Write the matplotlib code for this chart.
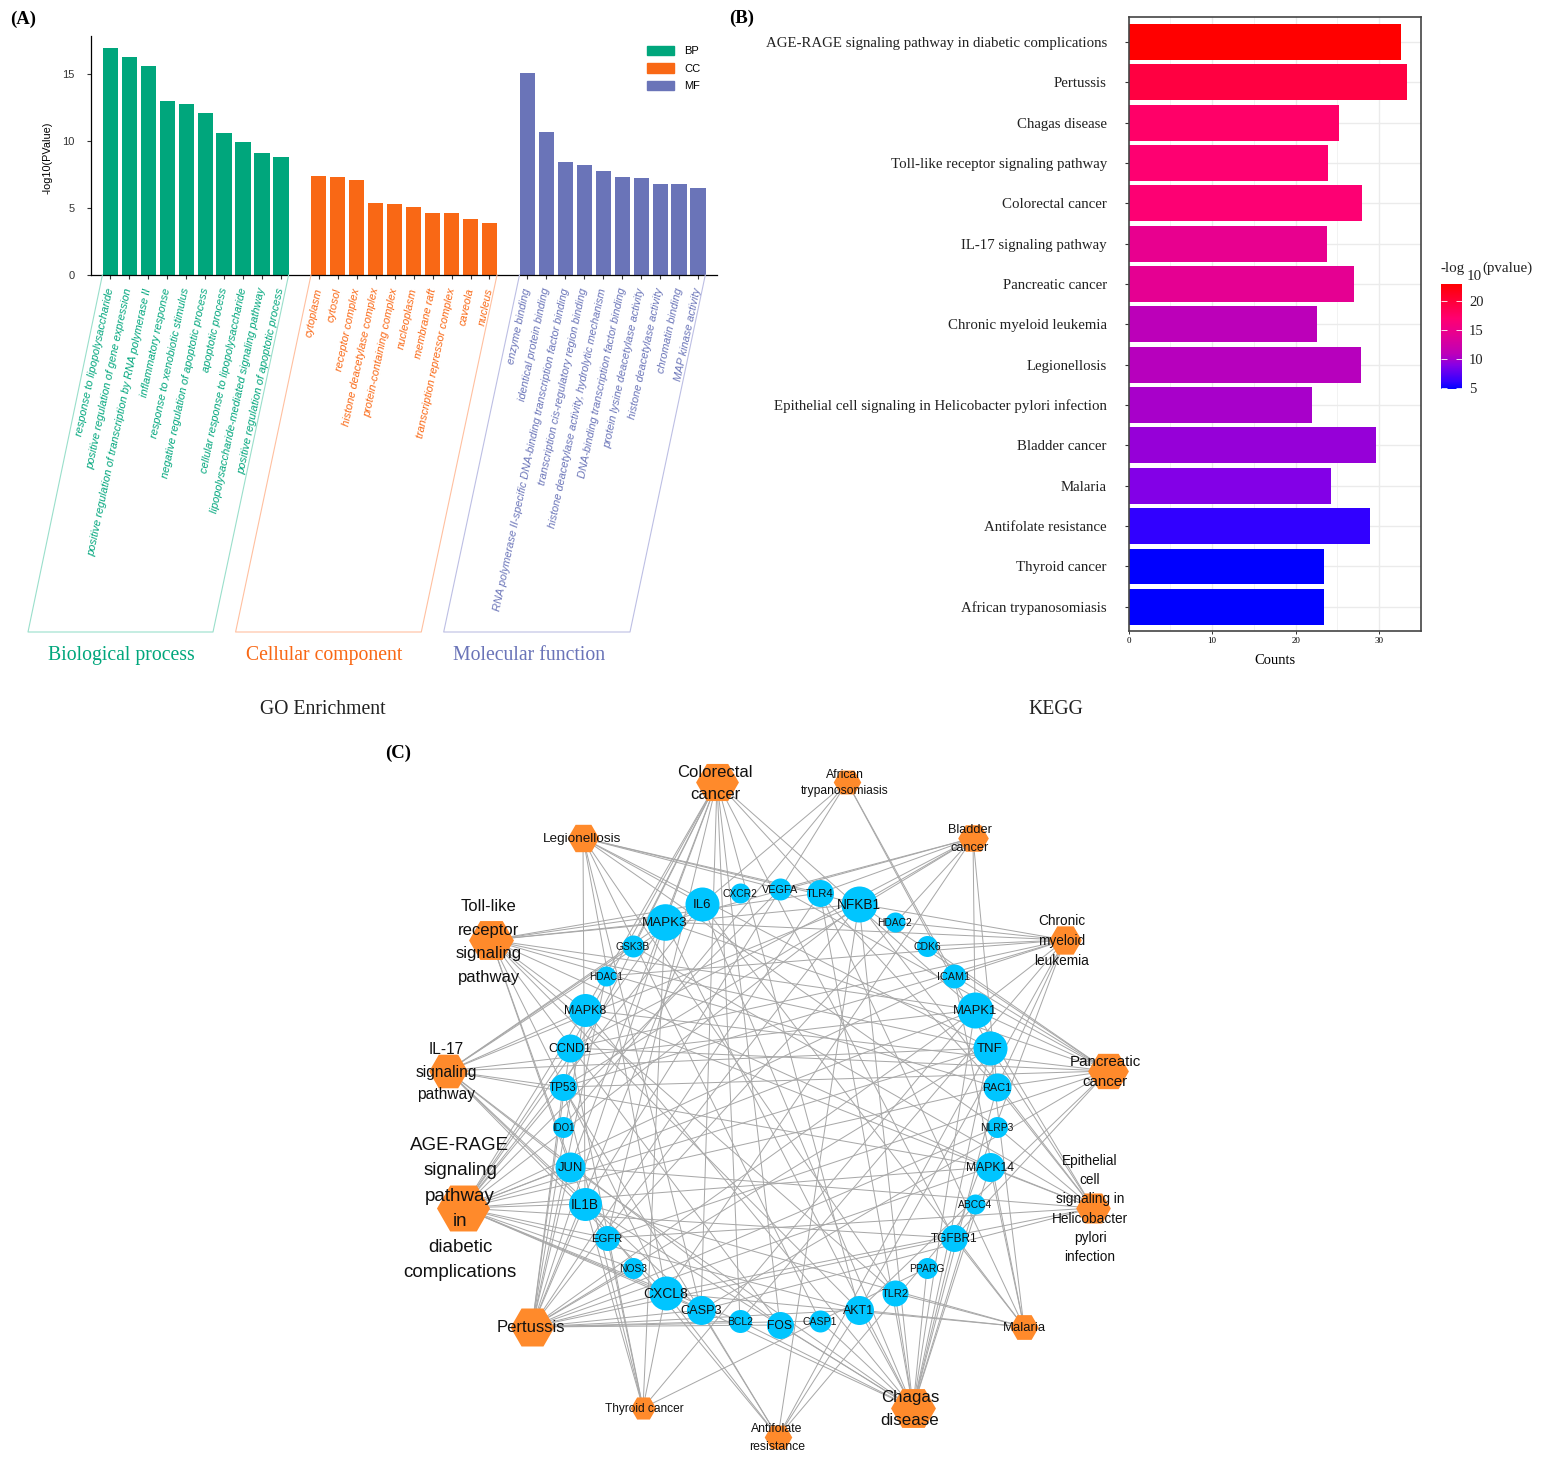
import numpy as np
import matplotlib
matplotlib.use("Agg")
import matplotlib.pyplot as plt
from matplotlib.cm import ScalarMappable
from matplotlib.colors import LinearSegmentedColormap, Normalize
from matplotlib.patches import Patch

W, H = 1541, 1458
SERIF = "Liberation Serif"
SANS = "Liberation Sans"

# panel A data
bp_terms = ["response to lipopolysaccharide", "positive regulation of gene expression",
            "positive regulation of transcription by RNA polymerase II", "inflammatory response",
            "response to xenobiotic stimulus", "negative regulation of apoptotic process",
            "apoptotic process", "cellular response to lipopolysaccharide",
            "lipopolysaccharide-mediated signaling pathway", "positive regulation of apoptotic process"]
bp_values = [16.96, 16.24, 15.57, 12.99, 12.74, 12.09, 10.6, 9.93, 9.11, 8.84]
cc_terms = ["cytoplasm", "cytosol", "receptor complex", "histone deacetylase complex",
            "protein-containing complex", "nucleoplasm", "membrane raft",
            "transcription repressor complex", "caveola", "nucleus"]
cc_values = [7.4, 7.35, 7.1, 5.34, 5.29, 5.04, 4.64, 4.62, 4.17, 3.9]
mf_terms = ["enzyme binding", "identical protein binding",
            "RNA polymerase II-specific DNA-binding transcription factor binding",
            "transcription cis-regulatory region binding",
            "histone deacetylase activity, hydrolytic mechanism",
            "DNA-binding transcription factor binding", "protein lysine deacetylase activity",
            "histone deacetylase activity", "chromatin binding", "MAP kinase activity"]
mf_values = [15.07, 10.7, 8.44, 8.22, 7.75, 7.35, 7.25, 6.8, 6.78, 6.5]

# panel B data
kegg_terms = ["AGE-RAGE signaling pathway in diabetic complications", "Pertussis", "Chagas disease",
              "Toll-like receptor signaling pathway", "Colorectal cancer", "IL-17 signaling pathway",
              "Pancreatic cancer", "Chronic myeloid leukemia", "Legionellosis",
              "Epithelial cell signaling in Helicobacter pylori infection", "Bladder cancer", "Malaria",
              "Antifolate resistance", "Thyroid cancer", "African trypanosomiasis"]
kegg_counts = [32.6, 33.3, 25.2, 23.85, 27.9, 23.7, 27.0, 22.5, 27.8, 21.95, 29.6, 24.25, 28.9, 23.4, 23.4]
kegg_logp = [23, 19.5, 17.5, 17, 16.8, 14.5, 14.3, 11, 10.8, 10.2, 9.6, 9, 6.2, 5, 5]

# panel C data: which genes sit in which pathway
genes = ["IL6", "MAPK3", "CXCR2", "VEGFA", "GSK3B", "HDAC1", "MAPK8", "CCND1", "TP53", "TLR4", "NFKB1",
         "HDAC2", "CDK6", "ICAM1", "MAPK1", "TNF", "RAC1", "NLRP3", "MAPK14", "ABCC4", "TGFBR1", "PPARG",
         "TLR2", "AKT1", "CASP1", "FOS", "BCL2", "CASP3", "CXCL8", "NOS3", "EGFR", "IL1B", "JUN", "IDO1"]
pathway_genes = {
    "Colorectal cancer": ["MAPK3", "MAPK1", "TP53", "CCND1", "AKT1", "BCL2", "CASP3", "GSK3B", "JUN", "FOS",
                          "RAC1", "TGFBR1", "MAPK8", "EGFR"],
    "African trypanosomiasis": ["TNF", "IL1B", "ICAM1", "IDO1", "IL6"],
    "Legionellosis": ["IL6", "TNF", "IL1B", "CXCL8", "TLR4", "TLR2", "NFKB1", "CASP1", "CASP3", "NLRP3", "VEGFA"],
    "Bladder cancer": ["VEGFA", "MAPK1", "MAPK3", "EGFR", "CXCL8", "TP53", "CCND1", "RAC1", "TLR4", "NFKB1"],
    "Toll-like receptor signaling pathway": ["IL6", "MAPK3", "TLR4", "TLR2", "NFKB1", "AKT1", "IL1B", "CXCL8", "TNF",
                                             "JUN", "FOS", "MAPK1", "MAPK8", "MAPK14", "RAC1"],
    "Chronic myeloid leukemia": ["MAPK1", "MAPK3", "TP53", "CCND1", "CDK6", "HDAC1", "HDAC2", "NFKB1", "AKT1",
                                 "TGFBR1", "RAC1", "ICAM1", "BCL2"],
    "IL-17 signaling pathway": ["IL6", "CXCL8", "TNF", "IL1B", "JUN", "FOS", "MAPK1", "MAPK3", "MAPK8", "MAPK14",
                                "NFKB1", "GSK3B", "CASP3", "TP53"],
    "Pancreatic cancer": ["MAPK1", "MAPK3", "TP53", "CCND1", "AKT1", "NFKB1", "EGFR", "VEGFA", "MAPK8", "RAC1",
                          "TGFBR1", "CASP3", "CDK6", "ICAM1"],
    "AGE-RAGE signaling pathway in diabetic complications": ["IL6", "CXCL8", "TNF", "IL1B", "JUN", "MAPK1", "MAPK3",
                                                             "MAPK8", "MAPK14", "NFKB1", "AKT1", "BCL2", "CASP3",
                                                             "CCND1", "ICAM1", "NOS3", "TGFBR1", "VEGFA", "TP53",
                                                             "RAC1", "EGFR"],
    "Epithelial cell signaling in Helicobacter pylori infection": ["CXCL8", "NFKB1", "JUN", "MAPK1", "MAPK8", "MAPK14",
                                                                   "EGFR", "CASP3", "RAC1", "GSK3B", "TNF", "NLRP3"],
    "Pertussis": ["IL6", "IL1B", "CXCL8", "TNF", "JUN", "FOS", "MAPK1", "MAPK3", "MAPK8", "MAPK14", "NFKB1",
                  "NOS3", "CASP1", "CASP3", "NLRP3", "TLR4", "BCL2", "AKT1", "TGFBR1", "TP53", "CCND1", "HDAC1"],
    "Malaria": ["IL6", "TNF", "IL1B", "CXCL8", "TLR2", "TLR4", "ICAM1", "TGFBR1", "MAPK14", "AKT1"],
    "Thyroid cancer": ["CCND1", "TP53", "MAPK1", "MAPK3", "PPARG", "CXCL8", "EGFR", "IL1B"],
    "Chagas disease": ["IL6", "TNF", "IL1B", "CXCL8", "TLR2", "TLR4", "NFKB1", "JUN", "FOS", "MAPK1", "MAPK3",
                       "MAPK8", "MAPK14", "AKT1", "TGFBR1", "CASP1", "BCL2", "RAC1", "ABCC4", "PPARG"],
    "Antifolate resistance": ["IL1B", "TNF", "ABCC4", "TP53", "NFKB1", "CXCL8", "AKT1", "CASP3"],
}

# network layout, in pixels of the picture
gene_xy = [(702, 904), (665, 922), (740, 893), (780, 889), (633, 946), (606, 976), (585, 1010), (570, 1048),
           (563, 1087), (820, 893), (859, 904), (895, 922), (927, 946), (954, 976), (975, 1010), (990, 1048),
           (997, 1087), (997, 1127), (990, 1167), (975, 1204), (954, 1238), (927, 1268), (895, 1293), (859, 1310),
           (820, 1321), (780, 1325), (740, 1321), (701, 1310), (666, 1293), (633, 1268), (607, 1238), (585, 1204),
           (570, 1167), (563, 1127)]
gene_r = [17, 18.3, 10, 11, 11, 10, 16.5, 14, 13.5, 13.5, 18, 10, 10.5, 12, 18, 17,
          14, 10.5, 14.5, 10, 13.5, 10.5, 13, 14.5, 11, 13.5, 11.5, 14.5, 17, 10.5, 12.5, 16.5, 15, 10.5]
gene_fs = [9.5, 9.6, 7.4, 7.8, 7.4, 7.2, 9, 9, 8.4, 8.2, 9.8, 7.4, 7.5, 7.8, 9.4, 9.5,
           7.9, 7.4, 8.7, 7.4, 8.5, 7.4, 8, 8.9, 7.6, 8.7, 7.5, 9.2, 10, 7.4, 8.1, 9.8, 9.4, 6.9]
path_xy = {"Colorectal cancer": (717, 782), "African trypanosomiasis": (847, 782), "Legionellosis": (583, 838),
           "Bladder cancer": (973, 838), "Toll-like receptor signaling pathway": (491, 940),
           "Chronic myeloid leukemia": (1065, 940), "IL-17 signaling pathway": (448, 1071),
           "Pancreatic cancer": (1108, 1071), "AGE-RAGE signaling pathway in diabetic complications": (463, 1208),
           "Epithelial cell signaling in Helicobacter pylori infection": (1093, 1208), "Pertussis": (532, 1327),
           "Malaria": (1024, 1327), "Thyroid cancer": (643, 1408), "Chagas disease": (913, 1408),
           "Antifolate resistance": (778, 1437)}
# half width of hexagon, label centre, label lines, font size, line step
path_style = {
    "Colorectal cancer": (21, 715, 783, "Colorectal\ncancer", 12, 22),
    "African trypanosomiasis": (13.5, 845, 783, "African\ntrypanosomiasis", 8.7, 16),
    "Legionellosis": (15.5, 582, 839, "Legionellosis", 9.7, 0),
    "Bladder cancer": (15, 970, 839, "Bladder\ncancer", 9.2, 18),
    "Toll-like receptor signaling pathway": (22, 489, 942, "Toll-like\nreceptor\nsignaling\npathway", 12, 23.5),
    "Chronic myeloid leukemia": (16, 1062, 941, "Chronic\nmyeloid\nleukemia", 9.8, 20),
    "IL-17 signaling pathway": (19, 446, 1072, "IL-17\nsignaling\npathway", 11.2, 22),
    "Pancreatic cancer": (20, 1105, 1072, "Pancreatic\ncancer", 10.9, 21),
    "AGE-RAGE signaling pathway in diabetic complications": (
        26, 460, 1209, "AGE-RAGE\nsignaling\npathway\nin\ndiabetic\ncomplications", 13.5, 25.4),
    "Epithelial cell signaling in Helicobacter pylori infection": (
        17, 1090, 1209, "Epithelial\ncell\nsignaling in\nHelicobacter\npylori\ninfection", 9.8, 19.2),
    "Pertussis": (21.5, 531, 1328, "Pertussis", 12, 0),
    "Malaria": (14, 1024, 1328, "Malaria", 9.4, 0),
    "Thyroid cancer": (12.5, 644, 1409, "Thyroid cancer", 8.6, 0),
    "Chagas disease": (22, 910, 1409, "Chagas\ndisease", 12.2, 23),
    "Antifolate resistance": (13.5, 777, 1438, "Antifolate\nresistance", 8.8, 17),
}

GREEN, ORANGE, BLUE = "#00A67C", "#F96815", "#6A74B8"


def px_axes(fig, left, top, right, bottom):
    return fig.add_axes([left / W, 1 - bottom / H, (right - left) / W, (bottom - top) / H])


fig = plt.figure(figsize=(W / 100, H / 100), dpi=100)
plt.rcParams["font.family"] = SANS

# ---- panel A
ax = px_axes(fig, 91, 36, 717, 275)
groups = [(bp_terms, bp_values, GREEN, 0), (cc_terms, cc_values, ORANGE, 11), (mf_terms, mf_values, BLUE, 22)]
ticks, ticklabels, tickcolors = [], [], []
for terms, values, color, start in groups:
    xs = start + np.arange(len(values))
    ax.bar(xs, values, width=0.8, color=color)
    ticks += list(xs)
    ticklabels += terms
    tickcolors += [color] * len(terms)
ax.set_xlim(-1.018, 32.0)
ax.set_ylim(0, 17.84)
ax.set_yticks([0, 5, 10, 15])
ax.set_xticks(ticks)
ax.set_xticklabels(ticklabels, rotation=78, ha="right", va="center", rotation_mode="anchor",
                   fontsize=7.95, style="italic")
for lab, c in zip(ax.get_xticklabels(), tickcolors):
    lab.set_color(c)
ax.tick_params(axis="x", length=3, width=0.8, pad=6.5, color="#333333")
ax.tick_params(axis="y", length=3, width=0.8, labelsize=8, pad=9, color="#333333", labelcolor="#333333")
ax.spines[["top", "right"]].set_visible(False)
ax.spines["left"].set_linewidth(0.9)
ax.spines["bottom"].set_linewidth(0.9)
ax.set_ylabel("-log10(PValue)", fontsize=7.8, labelpad=7, y=0.49)
ax.legend(handles=[Patch(color=GREEN, label="BP"), Patch(color=ORANGE, label="CC"), Patch(color=BLUE, label="MF")],
          loc="upper left", bbox_to_anchor=(0.888, 0.958), frameon=False, fontsize=8, borderpad=0, borderaxespad=0,
          handlelength=2.43, handleheight=0.9, handletextpad=0.9, labelspacing=0.62)

# ---- panel B
bx = px_axes(fig, 1128.5, 17, 1421, 631)
cmap = LinearSegmentedColormap.from_list(
    "kegg", [(0, "#0000FF"), (0.07, "#3300FF"), (0.226, "#8600E6"), (0.29, "#AA00C8"), (0.337, "#BE00B8"),
             (0.53, "#E8008F"), (0.67, "#FF0070"), (1, "#FF0000")])
norm = Normalize(5, 23)
ypos = np.arange(len(kegg_terms))
bx.set_axisbelow(True)
bx.barh(ypos, kegg_counts, height=0.89, color=cmap(norm(np.array(kegg_logp))))
bx.set_xlim(0, 35)
bx.set_ylim(14.6, -0.62)
bx.set_xticks([0, 10, 20, 30])
bx.set_xticks([5, 15, 25, 35], minor=True)
bx.set_yticks(ypos)
bx.set_yticklabels(kegg_terms, fontsize=10.7, family=SERIF, color="#222222")
for lab in bx.get_xticklabels():
    lab.set_family(SERIF)
bx.tick_params(axis="y", length=3, width=0.8, pad=12.5, color="#333333")
bx.tick_params(axis="x", length=2.5, width=0.7, labelsize=6.5, pad=2, color="#333333")
bx.tick_params(axis="x", which="minor", length=0)
bx.grid(True, which="major", color="#ebebeb", lw=1)
bx.grid(True, which="minor", axis="x", color="#f2f2f2", lw=0.7)
for s in bx.spines.values():
    s.set_color("#444444")
    s.set_linewidth(1.2)
bx.set_xlabel("Counts", fontsize=10.5, family=SERIF, labelpad=6)

cax = px_axes(fig, 1441, 283.5, 1462, 389)
cb = fig.colorbar(ScalarMappable(norm=Normalize(4.9, 23), cmap=cmap), cax=cax)
cb.set_ticks([5, 10, 15, 20])
cb.outline.set_visible(False)
cax.tick_params(axis="y", length=4, width=0.6, color="white", direction="in", left=True, right=True,
                labelsize=10.5, pad=5, labelcolor="#222222")
for lab in cax.get_yticklabels():
    lab.set_family(SERIF)

# ---- overlay in picture pixels: decoration and panel C
ov = fig.add_axes([0, 0, 1, 1], facecolor="none")
ov.set_xlim(0, W)
ov.set_ylim(H, 0)
ov.axis("off")

frames = [("#9ADFCB", 102.4, 28, 213, 288.6), ("#FFC0A0", 311, 235.6, 421.3, 497), ("#BDBFE4", 519.5, 443.7, 630, 705.3)]
for c, x0, x1, x2, x3 in frames:
    ov.plot([x0, x1, x2, x3], [275, 632, 632, 275], color=c, lw=0.8)

ov.text(121, 655, "Biological process", color=GREEN, family=SERIF, fontsize=14.2, ha="center", va="center")
ov.text(324, 655, "Cellular component", color=ORANGE, family=SERIF, fontsize=14.2, ha="center", va="center")
ov.text(529, 655, "Molecular function", color=BLUE, family=SERIF, fontsize=14.2, ha="center", va="center")
ov.text(323, 709, "GO Enrichment", family=SERIF, fontsize=14.2, ha="center", va="center", color="#222222")
ov.text(1056, 709, "KEGG", family=SERIF, fontsize=14.2, ha="center", va="center", color="#222222")
for x, y, s in [(10, 19, "(A)"), (729, 18, "(B)"), (385, 753, "(C)")]:
    ov.text(x, y, s, family=SERIF, weight="bold", fontsize=13.5, va="center")
ov.text(1441, 268, "-log", family=SERIF, fontsize=10.8, va="center", color="#222222")
ov.text(1467, 276, "10", family=SERIF, fontsize=10.8, va="center", color="#222222")
ov.text(1482, 268, "(pvalue)", family=SERIF, fontsize=10.8, va="center", color="#222222")

gene_pos = dict(zip(genes, gene_xy))
for name, members in pathway_genes.items():
    px, py = path_xy[name]
    for g in members:
        gx, gy = gene_pos[g]
        ov.plot([px, gx], [py, gy], color="#A8A8A8", lw=0.72, zorder=2, solid_capstyle="round")

for name, (px, py) in path_xy.items():
    hw = path_style[name][0]
    ov.scatter(px, py, s=(2 * hw * 0.72 / 0.98) ** 2, marker="H", color="#FF8A2B", linewidths=0, zorder=3)
for (gx, gy), r in zip(gene_xy, gene_r):
    ov.scatter(gx, gy, s=(2 * r * 0.72) ** 2, marker="o", color="#00C5FF", linewidths=0, zorder=3)

for g, (gx, gy), fs in zip(genes, gene_xy, gene_fs):
    ov.text(gx, gy + 1, g, fontsize=fs, ha="center", va="center", color="#111111", zorder=4)
for name, (hw, tx, ty, label, fs, step) in path_style.items():
    lines = label.split("\n")
    for i, line in enumerate(lines):
        ov.text(tx, ty + (i - (len(lines) - 1) / 2) * step, line, fontsize=fs, ha="center", va="center",
                color="#111111", zorder=4)

fig.savefig("out.png", dpi=100)
